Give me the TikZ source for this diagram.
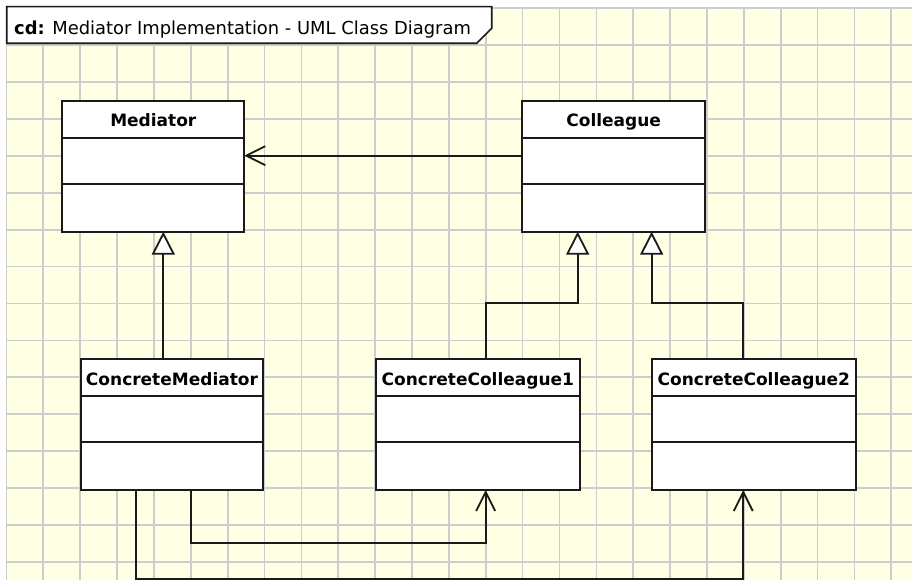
\documentclass[tikz,border=0pt]{standalone}
\usepackage{fontspec}
\setmainfont{DejaVu Sans}
\usetikzlibrary{arrows.meta}

\definecolor{paper}{RGB}{255,255,227}
\definecolor{gridline}{RGB}{205,205,205}
\definecolor{ink}{RGB}{26,26,26}

\tikzset{
  gridrule/.style={draw=gridline, line width=1.7pt},
  cls/.style={draw=ink, fill=white, line width=1.8pt, rectangle, inner sep=0pt, outer sep=0pt, anchor=north west},
  divider/.style={draw=ink, line width=1.8pt},
  clsname/.style={font=\fontsize{17}{20}\selectfont\bfseries, anchor=base, inner sep=0pt},
  gen/.style={draw=ink, line width=1.8pt, -{Triangle[fill=white, length=23pt, width=23pt]}},
  assoc/.style={draw=ink, line width=1.8pt, -{Straight Barb[length=19pt, width=19pt]}},
  frametab/.style={draw=ink, fill=white, line width=1.6pt},
}

\begin{document}
\begin{tikzpicture}[x=1pt, y=-1pt]
  \useasboundingbox (0,0) rectangle (912,580);
  \fill[white] (0,0) rectangle (912,580);

  % squared paper
  \fill[paper] (6.45,8.3) rectangle (912,580);
  \foreach \k in {0,...,24} {
    \draw[gridrule] (6.45+36.87*\k, 8.3) -- (6.45+36.87*\k, 580);
  }
  \foreach \k in {0,...,15} {
    \draw[gridrule] (6.45, 8.3+36.9*\k) -- (912, 8.3+36.9*\k);
  }

  % diagram frame tab
  \draw[frametab] (6.7,6.7) -- (491.7,6.7) -- (491.7,28.3) -- (476.7,43.3) -- (6.7,43.3) -- cycle;
  \node[anchor=base west, inner sep=0pt, font=\fontsize{17.9}{20}\selectfont] (title) at (14,34.3)
    {\textbf{cd:} Mediator Implementation - UML Class Diagram};

  % classes
  \node[cls, minimum width=182pt, minimum height=130.7pt] (med) at (62.3,101) {};
  \node[cls, minimum width=182.7pt, minimum height=130.7pt] (col) at (522.3,101) {};
  \node[cls, minimum width=182.6pt, minimum height=131pt] (cm) at (80.7,359) {};
  \node[cls, minimum width=204.3pt, minimum height=131pt] (cc1) at (375.7,359) {};
  \node[cls, minimum width=204.3pt, minimum height=131pt] (cc2) at (651.7,359) {};

  \foreach \c/\d in {med/36.7, col/36.7, cm/36.7, cc1/36.7, cc2/36.7} {
    \draw[divider] ([yshift=-\d pt]\c.north west) -- ([yshift=-\d pt]\c.north east);
    \draw[divider] ([yshift=-\d pt-46.3pt]\c.north west) -- ([yshift=-\d pt-46.3pt]\c.north east);
  }

  \node[clsname] (medname) at ([yshift=-25.7pt]med.north) {Mediator};
  \node[clsname] (colname) at ([yshift=-25.7pt]col.north) {Colleague};
  \node[clsname] (cmname) at ([yshift=-26.5pt]cm.north) {ConcreteMediator};
  \node[clsname] (cc1name) at ([yshift=-26.5pt]cc1.north) {ConcreteColleague1};
  \node[clsname] (cc2name) at ([yshift=-26.5pt]cc2.north) {ConcreteColleague2};

  % associations
  \draw[assoc] ([yshift=10.65pt]col.west) -- ([yshift=10.65pt]med.east);
  \draw[assoc] ([xshift=18.9pt]cm.south) -- ++(0,53.3) -| ([xshift=7.8pt]cc1.south);
  \draw[assoc] ([xshift=-36.3pt]cm.south) -- ++(0,88.8) -| ([xshift=-10.6pt]cc2.south);

  % generalizations
  \draw[gen] ([xshift=-8.7pt]cm.north) -- ([xshift=-8.7pt]cm.north |- med.south);
  \draw[gen] ([xshift=7.8pt]cc1.north) -- ++(0,-55.7) -| ([xshift=-36pt]col.south);
  \draw[gen] ([xshift=-10.6pt]cc2.north) -- ++(0,-55.7) -| ([xshift=38pt]col.south);
\end{tikzpicture}
\end{document}
